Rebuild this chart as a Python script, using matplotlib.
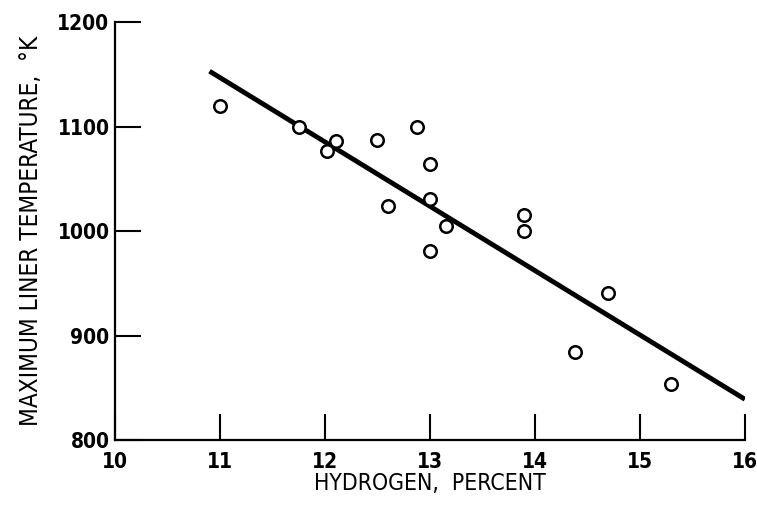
import numpy as np
import matplotlib.pyplot as plt

# hydrogen content (percent) vs. maximum liner temperature (K)
hydrogen = [11.0, 11.75, 12.02, 12.1, 12.5, 12.88, 13.0, 12.6, 13.0, 13.15,
            13.0, 13.9, 13.9, 14.7, 14.38, 15.3]
temperature = [1120, 1100, 1077, 1086, 1087, 1100, 1064, 1024, 1031, 1005,
               981, 1015, 1000, 941, 884, 854]

# fitted trend line end points
fit_x = [10.9, 16.0]
fit_y = [1153, 839]

x_ticks = [10, 11, 12, 13, 14, 15, 16]
y_ticks = [800, 900, 1000, 1100, 1200]

plt.rcParams['font.family'] = ['DejaVu Sans']
plt.rcParams['font.stretch'] = 'condensed'

fig = plt.figure(figsize=(7.57, 5.14), dpi=100)
ax = fig.add_axes([0.152, 0.144, 0.832, 0.813])

ax.plot(fit_x, fit_y, color='black', lw=3.5, solid_capstyle='butt')
ax.plot(hydrogen, temperature, 'o', ms=9, mfc='white', mec='black', mew=1.8)

ax.set_xlim(10, 16)
ax.set_ylim(800, 1200)
ax.set_xticks(x_ticks)
ax.set_yticks(y_ticks)
ax.tick_params(direction='in', length=19, width=1.5, labelsize=15)
ax.tick_params(axis='y', pad=4)
ax.tick_params(axis='x', pad=9)
for lab in ax.get_xticklabels() + ax.get_yticklabels():
    lab.set_fontweight('bold')
    lab.set_fontstretch('condensed')

for side in ['top', 'right']:
    ax.spines[side].set_visible(False)
for side in ['left', 'bottom']:
    ax.spines[side].set_linewidth(1.6)

ax.set_xlabel('HYDROGEN,  PERCENT', fontsize=16.5, labelpad=0,
              fontstretch='condensed')
ax.set_ylabel('MAXIMUM LINER TEMPERATURE,  °K', fontsize=17.5, labelpad=10,
              fontstretch='condensed')

fig.savefig('out.png', dpi=100)
